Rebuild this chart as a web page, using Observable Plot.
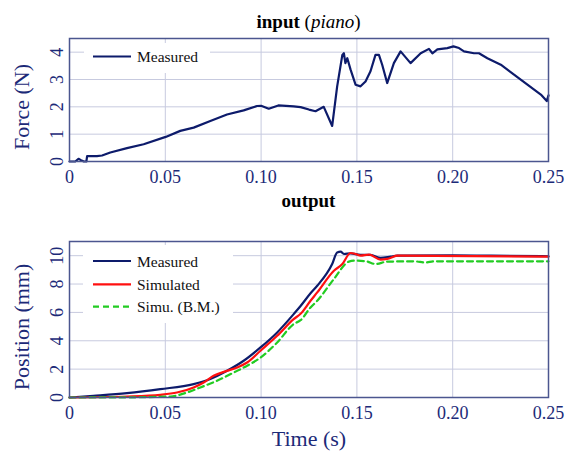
<!DOCTYPE html>
<html><head><meta charset="utf-8">
<script src="https://cdn.jsdelivr.net/npm/d3@7"></script>
<script src="https://cdn.jsdelivr.net/npm/@observablehq/plot@0.6"></script>
<style>
body{margin:0;background:#fff;}
#chart{position:relative;width:566px;height:453px;}
#chart svg{display:block;}
</style></head><body><div id="chart"></div>
<script>
// ---- data ----
const forceT = [0,0.003,0.0047,0.006,0.0075,0.0088,0.0092,0.0143,0.017,0.0213,0.030,0.0387,0.0502,0.0578,0.0648,0.0735,0.0822,0.0909,0.0979,0.100,0.104,0.109,0.117,0.1206,0.125,0.1284,0.1327,0.1371,0.1397,0.1424,0.1432,0.144,0.145,0.1467,0.1493,0.1519,0.1545,0.1571,0.1597,0.1615,0.1632,0.1658,0.1693,0.1728,0.178,0.1833,0.1876,0.1894,0.192,0.1972,0.2004,0.2033,0.2059,0.2111,0.2137,0.2181,0.2251,0.232,0.239,0.246,0.2491,0.25];
const forceF = [0,0,0.1,0.05,0,0,0.2,0.2,0.22,0.33,0.49,0.63,0.9,1.12,1.24,1.48,1.72,1.87,2.03,2.04,1.93,2.05,2.02,1.99,1.9,1.84,2.0,1.3,2.75,3.9,3.96,3.6,3.78,3.36,2.81,2.75,2.93,3.3,3.9,3.9,3.54,2.87,3.6,4.03,3.6,3.96,4.12,3.96,4.1,4.15,4.21,4.15,4.03,3.96,3.96,3.78,3.54,3.18,2.81,2.45,2.21,2.42];

const measT = [0,0.0125,0.03,0.0474,0.0648,0.0735,0.0822,0.0909,0.0997,0.1084,0.117,0.1206,0.1258,0.1293,0.1371,0.1397,0.1415,0.1432,0.1467,0.1519,0.1571,0.1624,0.1676,0.1711,0.20,0.22,0.25];
const measP = [0,0.12,0.31,0.59,0.94,1.3,1.88,2.59,3.53,4.59,5.88,6.45,7.35,7.88,9.41,10.23,10.28,10.12,10.16,10.05,10.05,9.84,9.93,10.0,10.02,10.0,9.96];

const simT = [0,0.03,0.0474,0.0561,0.0648,0.07,0.0752,0.0822,0.0875,0.0927,0.0997,0.1084,0.117,0.1206,0.1258,0.1293,0.138,0.1424,0.1467,0.1493,0.1519,0.1563,0.1624,0.1658,0.1711,0.25];
const simP = [0,0.07,0.19,0.35,0.71,1.06,1.53,1.88,2.12,2.47,3.3,4.35,5.53,5.9,6.82,7.41,8.94,9.41,10.19,10.12,10.0,10.07,9.72,9.77,10.0,9.93];

const bmT = [0,0.03,0.0526,0.0613,0.0683,0.077,0.0857,0.0927,0.0997,0.1084,0.117,0.1206,0.1258,0.1293,0.138,0.1458,0.1493,0.155,0.1597,0.1658,0.18,0.186,0.19,0.25];
const bmP = [0,0.01,0.07,0.35,0.71,1.18,1.76,2.24,2.82,3.88,5.18,5.45,6.35,6.82,8.35,9.58,9.65,9.6,9.41,9.58,9.6,9.52,9.6,9.6];

const xTicks = [0,0.05,0.10,0.15,0.20,0.25];
const xTickLabels = ["0","0.05","0.10","0.15","0.20","0.25"];
const forceTicks = [0,1,2,3,4];
const posTicks = [0,2,4,6,8,10];
const seriesNames = ["Measured","Simulated","Simu. (B.M.)"];

// ---- style ----
const NAVY = "#0d1b6b", RED = "#ff1010", GREEN = "#22cc22";
const TXT = "#1c2a78", FRAME = "#4b568f", GRID = "#c7cadf";
const FONT = "'Liberation Serif', 'Times New Roman', serif";
const W = 566, ML = 69, MR = 18;

function zip(a, b) { return a.map((v, i) => ({t: v, v: b[i]})); }

function axesMarks(yTicks, yLabel, yLabelDy, withXLabel) {
  const ms = [
    Plot.ruleX(xTicks, {x: d => d, stroke: GRID, strokeWidth: 1}),
    Plot.ruleY(yTicks, {y: d => d, stroke: GRID, strokeWidth: 1}),
    Plot.text(xTicks, {x: d => d, text: (d, i) => xTickLabels[i], frameAnchor: "bottom", lineAnchor: "top", dy: 9, fontSize: 18, fill: TXT}),
    Plot.text(yTicks, {y: d => d, text: d => String(d), frameAnchor: "left", rotate: -90, textAnchor: "middle", lineAnchor: "bottom", dx: -7, fontSize: 18, fill: TXT}),
    Plot.text([yLabel], {text: d => d, frameAnchor: "left", rotate: -90, textAnchor: "middle", lineAnchor: "middle", dx: -(ML - 21), dy: yLabelDy, fontSize: 22, fill: TXT})
  ];
  if (withXLabel) ms.push(Plot.text(["Time (s)"], {text: d => d, frameAnchor: "bottom", lineAnchor: "middle", dy: 41, fontSize: 22, fill: TXT}));
  return ms;
}

const topPlot = Plot.plot({
  width: W, height: 195,
  marginTop: 38, marginBottom: 34, marginLeft: ML, marginRight: MR,
  style: {fontFamily: FONT, background: "white", overflow: "visible"},
  x: {domain: [0, 0.25], axis: null},
  y: {domain: [0, 4.5], axis: null},
  marks: [
    ...axesMarks(forceTicks, "Force (N)", 7, false),
    Plot.line(zip(forceT, forceF), {x: "t", y: "v", stroke: NAVY, strokeWidth: 2.2}),
    Plot.frame({stroke: FRAME, strokeWidth: 1.5})
  ]
});

const botPlot = Plot.plot({
  width: W, height: 258,
  marginTop: 46, marginBottom: 56, marginLeft: ML, marginRight: MR,
  style: {fontFamily: FONT, background: "white", overflow: "visible"},
  x: {domain: [0, 0.25], axis: null},
  y: {domain: [0, 11], axis: null},
  marks: [
    ...axesMarks(posTicks, "Position (mm)", 7.5, true),
    Plot.line(zip(measT, measP), {x: "t", y: "v", stroke: NAVY, strokeWidth: 2.2, curve: "monotone-x"}),
    Plot.line(zip(simT, simP), {x: "t", y: "v", stroke: RED, strokeWidth: 2.2, curve: "monotone-x"}),
    Plot.line(zip(bmT, bmP), {x: "t", y: "v", stroke: GREEN, strokeWidth: 2.2, strokeDasharray: "6,4", curve: "monotone-x"}),
    Plot.frame({stroke: FRAME, strokeWidth: 1.5})
  ]
});

const root = document.getElementById("chart");
root.appendChild(topPlot);
root.appendChild(botPlot);

// titles
const t1 = d3.select(topPlot).append("text").attr("x", 308.5).attr("y", 27.5)
  .attr("text-anchor", "middle").attr("font-family", FONT).attr("font-size", 19).attr("fill", "#000");
t1.append("tspan").attr("font-weight", "bold").text("input");
t1.append("tspan").text(" (");
t1.append("tspan").attr("font-style", "italic").text("piano");
t1.append("tspan").text(")");

d3.select(botPlot).append("text").attr("x", 308.5).attr("y", 12)
  .attr("text-anchor", "middle").attr("font-family", FONT).attr("font-size", 19)
  .attr("font-weight", "bold").attr("fill", "#000").text("output");

// legends
function legend(svg, x, y, w, h, items) {
  const g = d3.select(svg).append("g").attr("text-anchor", "start");
  g.append("rect").attr("x", x).attr("y", y).attr("width", w).attr("height", h)
    .attr("fill", "#ffffff").attr("stroke", "none");
  items.forEach((it) => {
    g.append("line").attr("x1", 93).attr("x2", 131).attr("y1", it.y).attr("y2", it.y)
      .attr("stroke", it.color).attr("stroke-width", 2.2).attr("stroke-dasharray", it.dash || null);
    g.append("text").attr("x", 137).attr("y", it.y + 5.5).attr("font-family", FONT)
      .attr("text-anchor", "start")
      .attr("font-size", 15.5).attr("fill", "#111").text(it.name);
  });
}
legend(topPlot, 84, 43, 126, 30, [{name: seriesNames[0], color: NAVY, y: 56.5}]);
legend(botPlot, 83, 50, 150, 78, [
  {name: seriesNames[0], color: NAVY, y: 66},
  {name: seriesNames[1], color: RED, y: 89.3},
  {name: seriesNames[2], color: GREEN, y: 111.7, dash: "6,4"}
]);
</script></body></html>
